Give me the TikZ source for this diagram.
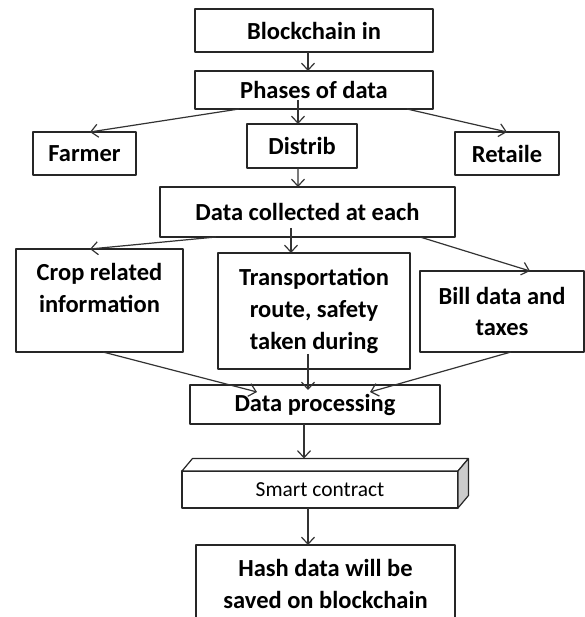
\documentclass[tikz,border=0pt]{standalone}
\usepackage{fontspec}
\setmainfont{Carlito}
\usepackage{tikz}
\usetikzlibrary{arrows.meta}
\usetikzlibrary{shapes}

\begin{document}
\begin{tikzpicture}[>={Straight Barb[length=7bp,width=13bp]},line join=bevel,
  box/.style={draw=black!85,line width=1.2bp,inner sep=0pt,outer sep=0pt,align=center,
    font=\bfseries\fontsize{24.6}{32}\selectfont},
  arr/.style={black!80,line width=1.2bp,->}]
%%
\useasboundingbox (0bp,0bp) rectangle (585bp,617bp);
\clip (0bp,0bp) rectangle (585bp,617bp);
\node (node_block) at (314bp,586.5bp) [box,minimum width=238bp,minimum height=43bp] {Blockchain in};
  \node (node_phases) at (314bp,527bp) [box,minimum width=238bp,minimum height=38bp] {Phases of data};
  \node (node_farmer) at (84.5bp,463.5bp) [box,minimum width=103bp,minimum height=43bp] {Farmer};
  \node (node_distrib) at (302bp,471bp) [box,minimum width=110bp,minimum height=44bp] {Distrib};
  \node (node_retaile) at (507bp,463.5bp) [box,minimum width=104bp,minimum height=43bp] {Retaile};
  \node (node_collect) at (307.5bp,405bp) [box,minimum width=295bp,minimum height=50bp] {Data collected at each};
  \node (node_crop) at (99.5bp,316.5bp) [box,minimum width=167bp,minimum height=103bp]
    {\begin{tabular}{@{}c@{}}Crop related\\information\\[20bp]\end{tabular}};
  \node (node_transport) at (314bp,306bp) [box,minimum width=192bp,minimum height=116bp] {Transportation\\route, safety\\taken during};
  \node (node_bill) at (502bp,305.5bp) [box,minimum width=164bp,minimum height=81bp] {Bill data and\\taxes};
  \node (node_proc) at (315bp,212.5bp) [box,minimum width=250bp,minimum height=39bp] {Data processing};
  \node (node_smart) at (320bp,127.5bp) [box,fill=white,minimum width=276bp,minimum height=37bp,
    font=\fontsize{21.5}{24}\selectfont] {Smart contract};
  \node (node_hash) at (325.5bp,33bp) [box,minimum width=259bp,minimum height=78bp] {Hash data will be\\saved on blockchain};
%
  \draw [draw=black!85,line width=1.2bp,fill=white] (node_smart.north west) -- ++(10.5bp,12.5bp)
    -- ([shift={(10.5bp,12.5bp)}]node_smart.north east) -- (node_smart.north east) -- cycle;
  \draw [draw=black!85,line width=1.2bp,fill=black!20] (node_smart.north east) -- ++(10.5bp,12.5bp)
    -- ([shift={(10.5bp,12.5bp)}]node_smart.south east) -- (node_smart.south east) -- cycle;
%
  \draw [arr] ([xshift=-6bp]node_block.south) -- ([xshift=-6bp]node_phases.north);
  \draw [arr] ([shift={(-16bp,9bp)}]node_phases.south) -- ([xshift=-4bp]node_distrib.north);
  \draw [arr] ([xshift=-75bp]node_phases.south) -- ([xshift=5.5bp]node_farmer.north);
  \draw [arr] ([xshift=93bp]node_phases.south) -- (node_retaile.north);
  \draw [arr] ([xshift=-4bp]node_distrib.south) -- ([xshift=-9.5bp]node_collect.north);
  \draw [arr] ([xshift=-91.5bp]node_collect.south) -- ([xshift=-9.5bp]node_crop.north);
  \draw [arr] ([shift={(-16.5bp,9bp)}]node_collect.south) -- ([xshift=-23bp]node_transport.north);
  \draw [arr] ([xshift=112.5bp]node_collect.south) -- ([xshift=28bp]node_bill.north);
  \draw [arr] ([xshift=3.5bp]node_crop.south) -- ([shift={(-58bp,-7bp)}]node_proc.north);
  \draw [arr] ([shift={(-6bp,15bp)}]node_transport.south) -- ([shift={(-7bp,-5bp)}]node_proc.north);
  \draw [arr] ([xshift=9bp]node_bill.south) -- ([shift={(55bp,-7bp)}]node_proc.north);
  \draw [arr] ([xshift=-11bp]node_proc.south) -- ([shift={(-16bp,12.5bp)}]node_smart.north);
  \draw [arr] ([xshift=-12bp]node_smart.south) -- ([xshift=-17.5bp]node_hash.north);
%
\end{tikzpicture}
\end{document}
